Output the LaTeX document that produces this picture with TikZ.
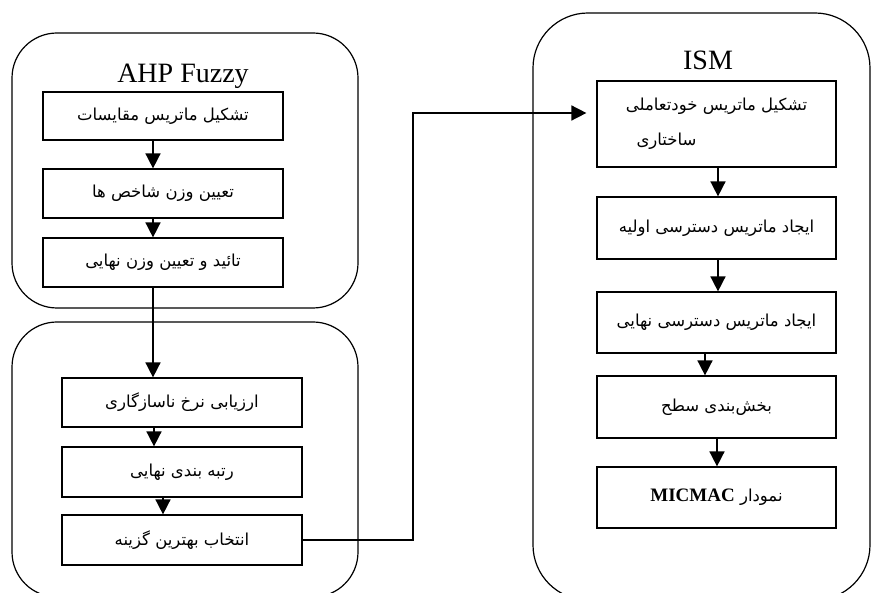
\documentclass[tikz,border=0pt]{standalone}
\usepackage{fontspec}
\setmainfont{Liberation Serif}
\newfontfamily\arabicfont[Script=Arabic]{DejaVu Sans}
\TeXXeTstate=1
\usetikzlibrary{arrows.meta}
\begin{document}
\begin{tikzpicture}[x=1pt,y=-1pt,
  box/.style={draw, line width=1.2pt, minimum width=240pt, inner sep=0pt,
    font=\arabicfont\fontsize{16.5}{35}\selectfont, align=center},
  cont/.style={draw, line width=1.2pt},
  arr/.style={line width=1.6pt, -{Triangle[length=15pt,width=15pt]}},
  ttl/.style={font=\fontsize{28}{30}\selectfont, inner sep=0pt}]
\useasboundingbox (0,0) rectangle (871,593);
\clip (0,0) rectangle (871,593);
% containers
\draw[cont, rounded corners=45pt] (12,33) rectangle (358,308);
\draw[cont, rounded corners=45pt] (12,322) rectangle (358,597);
\draw[cont, rounded corners=55pt] (533,13) rectangle (870,600);
% titles
\node[ttl] (t1) at (183,76) {AHP Fuzzy};
\node[ttl] (t2) at (708,60) {ISM};
% left boxes
\node[box, minimum height=48pt] (b1) at (163,116) {\beginR تشکیل ماتریس مقایسات\endR};
\node[box, minimum height=49pt] (b2) at (163,193.5) {\beginR تعیین وزن شاخص ها\endR};
\node[box, minimum height=49pt] (b3) at (163,262.5) {\beginR تائید و تعیین وزن نهایی\endR};
\node[box, minimum height=49pt] (b4) at (182,402.5) {\beginR ارزیابی نرخ ناسازگاری\endR};
\node[box, minimum height=50pt] (b5) at (182,472) {\beginR رتبه بندی نهایی\endR};
\node[box, minimum height=50pt] (b6) at (182,540) {\beginR انتخاب بهترین گزینه\endR};
% ISM boxes
\node[box, minimum width=239pt, minimum height=86pt] (i1) at (716.5,124)
  {\beginR تشکیل ماتریس خودتعاملی\endR\\\beginR ساختاری\endR\hspace*{100pt}};
\node[box, minimum width=239pt, minimum height=62pt] (i2) at (716.5,228) {\beginR ایجاد ماتریس دسترسی اولیه\endR};
\node[box, minimum width=239pt, minimum height=61pt] (i3) at (716.5,322.5) {\beginR ایجاد ماتریس دسترسی نهایی\endR};
\node[box, minimum width=239pt, minimum height=62pt] (i4) at (716.5,407) {\beginR بخش‌بندی سطح\endR};
\node[box, minimum width=239pt, minimum height=61pt] (i5) at (716.5,497.5)
  {\beginR نمودار \beginL{\normalfont\bfseries\fontsize{19}{20}\selectfont MICMAC}\endL\endR};
% arrows left
\draw[arr] ([xshift=-10pt]b1.south) -- ([xshift=-10pt]b1.south |- b2.north);
\draw[arr] ([xshift=-10pt]b2.south) -- ([xshift=-10pt]b2.south |- b3.north);
\draw[arr] ([xshift=-10pt]b3.south) -- ([xshift=-10pt]b3.south |- b4.north);
\draw[arr] ([xshift=-28pt]b4.south) -- ([xshift=-28pt]b4.south |- b5.north);
\draw[arr] ([xshift=-19pt]b5.south) -- ([xshift=-19pt]b5.south |- b6.north);
% connector to ISM
\coordinate (k1) at (413,113);
\draw[arr, shorten >=10pt] (b6.east) -| (k1) -- (i1.west |- k1);
% arrows ISM
\draw[arr] ([xshift=1.5pt]i1.south) -- ([xshift=1.5pt]i1.south |- i2.north);
\draw[arr] ([xshift=1.5pt]i2.south) -- ([xshift=1.5pt]i2.south |- i3.north);
\draw[arr] ([xshift=-11.5pt]i3.south) -- ([xshift=-11.5pt]i3.south |- i4.north);
\draw[arr] ([xshift=0.5pt]i4.south) -- ([xshift=0.5pt]i4.south |- i5.north);
\end{tikzpicture}
\end{document}
